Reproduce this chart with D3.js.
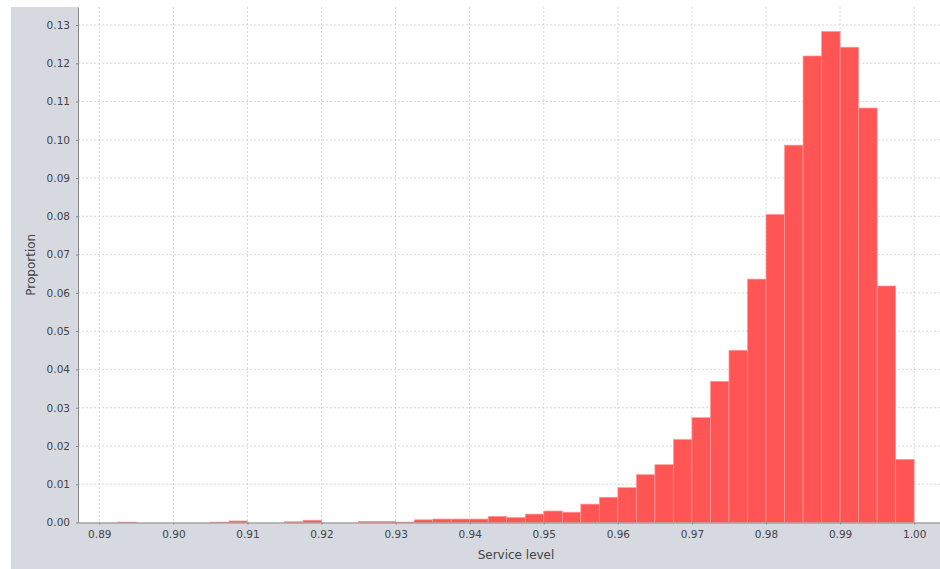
<!DOCTYPE html>
<html>
<head>
<meta charset="utf-8">
<script src="https://cdn.jsdelivr.net/npm/d3@7"></script>
<style>
  body { margin: 0; background: #fff; }
  svg { display: block; }
</style>
</head>
<body>
<div class="canvas"></div>
<script>
// histogram bins (lower edge) and proportion in each bin, width 0.0025
const binStart = [0.8925, 0.8950, 0.8975, 0.9000, 0.9025, 0.9050, 0.9075, 0.9100, 0.9125, 0.9150,
                  0.9175, 0.9200, 0.9225, 0.9250, 0.9275, 0.9300, 0.9325, 0.9350, 0.9375, 0.9400,
                  0.9425, 0.9450, 0.9475, 0.9500, 0.9525, 0.9550, 0.9575, 0.9600, 0.9625, 0.9650,
                  0.9675, 0.9700, 0.9725, 0.9750, 0.9775, 0.9800, 0.9825, 0.9850, 0.9875, 0.9900,
                  0.9925, 0.9950, 0.9975];
const proportion = [0.0001, 0, 0, 0, 0, 0.0001, 0.0004, 0, 0, 0.0002,
                    0.0006, 0, 0, 0.0003, 0.0003, 0.0001, 0.0007, 0.0009, 0.0009, 0.0009,
                    0.0016, 0.0013, 0.0022, 0.0030, 0.0027, 0.0048, 0.0066, 0.0091, 0.0125, 0.0151,
                    0.0217, 0.0274, 0.0369, 0.0450, 0.0636, 0.0805, 0.0986, 0.1219, 0.1283, 0.1242,
                    0.1083, 0.0618, 0.0165];
const binWidth = 0.0025;
const xTicks = [0.89, 0.90, 0.91, 0.92, 0.93, 0.94, 0.95, 0.96, 0.97, 0.98, 0.99, 1.00];
const yTicks = [0, 0.01, 0.02, 0.03, 0.04, 0.05, 0.06, 0.07, 0.08, 0.09, 0.10, 0.11, 0.12, 0.13];

const W = 940, H = 569;
const plotL = 78, plotR = 954, plotT = 7, plotB = 522.5;

const svg = d3.select('.canvas').append('svg')
    .attr('width', W)
    .attr('height', H);

// grey chart panel
svg.append('rect')
    .attr('x', 11).attr('y', 7)
    .attr('width', W - 11).attr('height', H - 7)
    .attr('fill', '#d6d9e0');

// plot area
svg.append('rect')
    .attr('x', plotL).attr('y', plotT)
    .attr('width', plotR - plotL).attr('height', plotB - plotT)
    .attr('fill', '#fff');

const x = d3.scaleLinear().domain([0.887125, 1.005375]).range([plotL, plotR]);
const y = d3.scaleLinear().domain([0, 0.1347]).range([plotB, plotT]);

// gridlines
const grid = svg.append('g')
    .attr('stroke', '#bdbdbd')
    .attr('stroke-width', 0.6)
    .attr('stroke-dasharray', '2,2');
grid.selectAll('.gx').data(xTicks).join('line')
    .attr('x1', d => x(d)).attr('x2', d => x(d))
    .attr('y1', plotT).attr('y2', plotB);
grid.selectAll('.gy').data(yTicks.slice(1)).join('line')
    .attr('x1', plotL).attr('x2', plotR)
    .attr('y1', d => y(d)).attr('y2', d => y(d));

// bars
svg.append('g').selectAll('rect')
    .data(binStart.map((s, i) => ({ s: s, v: proportion[i] })).filter(d => d.v > 0))
    .join('rect')
    .attr('x', d => x(d.s))
    .attr('width', d => x(d.s + binWidth) - x(d.s))
    .attr('y', d => y(d.v))
    .attr('height', d => y(0) - y(d.v))
    .attr('fill', '#ff5555')
    .attr('stroke', '#ff9a9a')
    .attr('stroke-width', 0.7);

// axes
const xAxis = d3.axisBottom(x).tickValues(xTicks).tickFormat(d3.format('.2f'))
    .tickSizeInner(2).tickSizeOuter(0).tickPadding(6);
const yAxis = d3.axisLeft(y).tickValues(yTicks).tickFormat(d3.format('.2f'))
    .tickSizeInner(2).tickSizeOuter(0).tickPadding(6);

const gx = svg.append('g').attr('transform', `translate(0,${plotB})`).call(xAxis);
const gy = svg.append('g').attr('transform', `translate(${plotL},0)`).call(yAxis);

[gx, gy].forEach(g => {
  g.select('.domain').attr('stroke', '#8a8a8a').attr('stroke-width', 1);
  g.selectAll('.tick line').attr('stroke', '#8a8a8a');
  g.selectAll('.tick text')
      .attr('fill', '#444')
      .style('font-family', 'DejaVu Sans')
      .style('font-size', '10.5px');
});

// axis labels
svg.append('text')
    .attr('x', (plotL + plotR) / 2)
    .attr('y', 559)
    .attr('text-anchor', 'middle')
    .attr('fill', '#444')
    .style('font-family', 'DejaVu Sans')
    .style('font-size', '12px')
    .text('Service level');

svg.append('text')
    .attr('transform', `translate(35,${(plotT + plotB) / 2}) rotate(-90)`)
    .attr('text-anchor', 'middle')
    .attr('fill', '#444')
    .style('font-family', 'DejaVu Sans')
    .style('font-size', '12px')
    .text('Proportion');
</script>
</body>
</html>
